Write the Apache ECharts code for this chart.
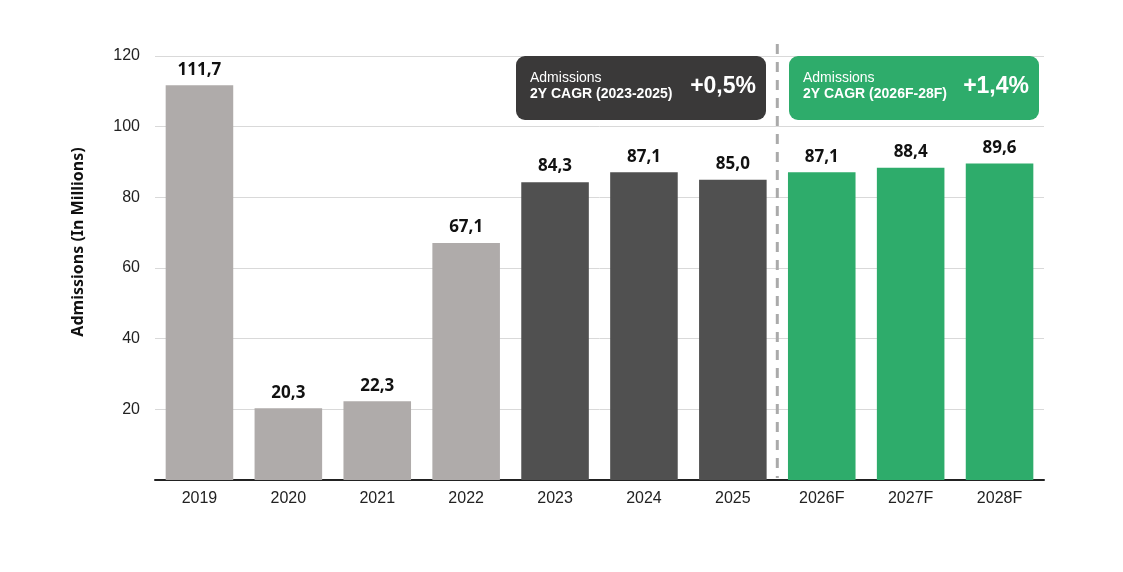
<!DOCTYPE html>
<html>
<head>
<meta charset="utf-8">
<script src="https://cdn.jsdelivr.net/npm/echarts@6/dist/echarts.min.js"></script>
<style>
  html, body { margin: 0; padding: 0; background: #fff; }
  #chart { width: 1123px; height: 572px; }
</style>
</head>
<body>
<div id="chart"></div>
<script>
var years = ['2019', '2020', '2021', '2022', '2023', '2024', '2025', '2026F', '2027F', '2028F'];
var admissions = [111.7, 20.3, 22.3, 67.1, 84.3, 87.1, 85.0, 87.1, 88.4, 89.6];
var periods = ['past', 'past', 'past', 'past', 'recent', 'recent', 'recent', 'forecast', 'forecast', 'forecast'];
var yTicks = [0, 20, 40, 60, 80, 100, 120];

var colors = {past: '#AFABAA', recent: '#505050', forecast: '#2EAC6B'};

var myChart = echarts.init(document.getElementById('chart'));

var barData = admissions.map(function (v, i) {
    return {value: v, itemStyle: {color: colors[periods[i]]}};
});

myChart.setOption({
    animation: false,
    grid: {left: 155, right: 79, top: 56, bottom: 92},
    xAxis: {
        type: 'category',
        data: years,
        axisLine: {lineStyle: {color: '#222', width: 2}},
        axisTick: {show: false},
        axisLabel: {color: '#222', fontSize: 16, fontFamily: 'Liberation Sans', margin: 11}
    },
    yAxis: {
        type: 'value',
        min: yTicks[0],
        max: yTicks[yTicks.length - 1],
        interval: 20,
        axisLine: {show: false},
        axisTick: {show: false},
        axisLabel: {
            color: '#222', fontSize: 16, fontFamily: 'Liberation Sans', margin: 15,
            formatter: function (v) { return v === 0 ? '' : v; }
        },
        splitLine: {lineStyle: {color: '#D9D9D9', width: 1}}
    },
    series: [{
        type: 'bar',
        data: barData,
        barWidth: '76%',
        label: {
            show: true,
            position: 'top',
            distance: 7,
            color: '#111',
            fontSize: 17,
            fontWeight: 'bold',
            fontFamily: 'Noto Sans',
            formatter: function (p) { return p.value.toFixed(1).replace('.', ','); }
        }
    }]
});

// dashed divider between actuals and forecast
var x1 = myChart.convertToPixel({xAxisIndex: 0}, 6);
var x2 = myChart.convertToPixel({xAxisIndex: 0}, 7);
var xd = (x1 + x2) / 2;
var yBase = myChart.convertToPixel({yAxisIndex: 0}, 0);

function box(left, fill, line1, line2, pct) {
    return {
        type: 'group',
        left: left,
        top: 56,
        children: [
            {type: 'rect', shape: {x: 0, y: 0, width: 250, height: 64, r: 9}, style: {fill: fill}},
            {type: 'text', x: 14, y: 22, style: {text: line1, fill: '#fff', font: '14px Liberation Sans', textVerticalAlign: 'middle'}},
            {type: 'text', x: 14, y: 38, style: {text: line2, fill: '#fff', font: 'bold 14px Liberation Sans', textVerticalAlign: 'middle'}},
            {type: 'text', x: 240, y: 31, style: {text: pct, fill: '#fff', font: 'bold 23px Liberation Sans', textAlign: 'right', textVerticalAlign: 'middle'}}
        ]
    };
}

myChart.setOption({
    graphic: [
        {
            type: 'line',
            shape: {x1: xd, y1: 44, x2: xd, y2: yBase - 2},
            style: {stroke: '#AAAAAA', lineWidth: 3, lineDash: [10, 8]}
        },
        {
            type: 'text',
            x: 78,
            y: 242,
            rotation: Math.PI / 2,
            style: {
                text: 'Admissions (In Millions)',
                fill: '#111',
                font: 'bold 16px Noto Sans',
                textAlign: 'center',
                textVerticalAlign: 'middle'
            }
        },
        box(516, '#3A3939', 'Admissions', '2Y CAGR (2023-2025)', '+0,5%'),
        box(789, '#2EAC6B', 'Admissions', '2Y CAGR (2026F-28F)', '+1,4%')
    ]
});
</script>
</body>
</html>
